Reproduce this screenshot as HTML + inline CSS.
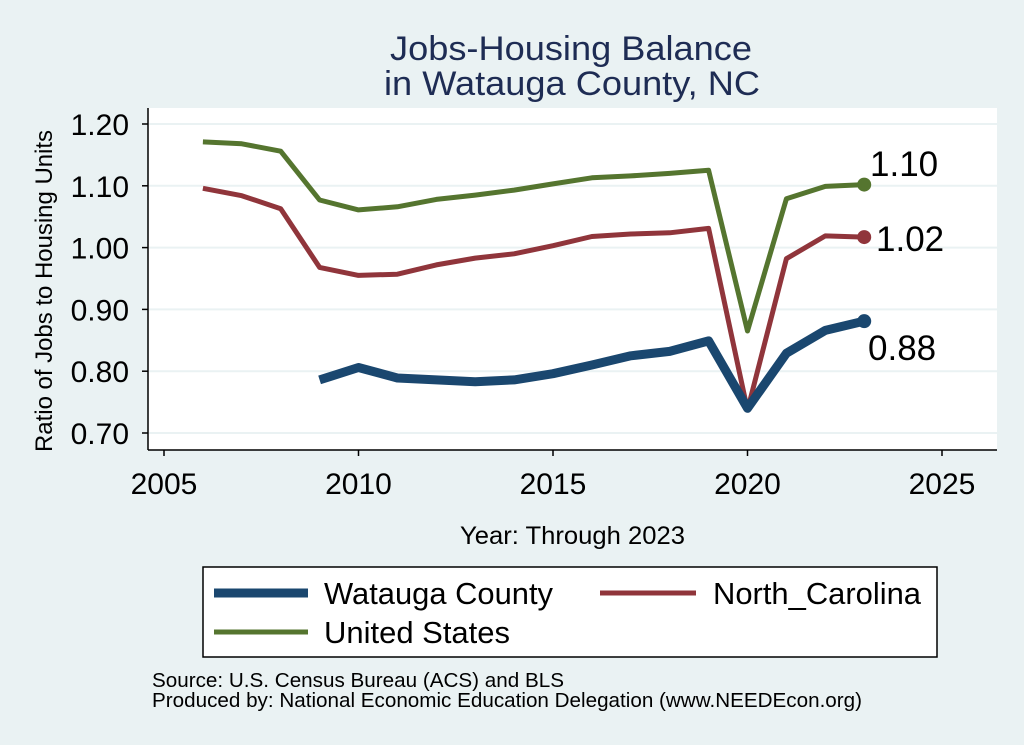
<!DOCTYPE html>
<html><head><style>
body{margin:0;background:#eaf2f3;}
svg{display:block;font-family:"Liberation Sans",Arial,sans-serif;}
</style></head><body>
<svg id="s" width="1024" height="745" viewBox="0 0 1024 745">
<rect width="1024" height="745" fill="#eaf2f3"/>
<rect x="148" y="108" width="849" height="342" fill="#fff"/>
<g id="grid" stroke="#eaf2f3" stroke-width="2"></g>
<line x1="148" y1="108" x2="148" y2="450" stroke="#000" stroke-width="1.5"/>
<line x1="148" y1="450" x2="997" y2="450" stroke="#000" stroke-width="1.5"/>
<g id="ticks" stroke="#000" stroke-width="1.5"></g>
<g id="lbl" font-size="30" fill="#000"></g>
<text x="390" y="60" font-size="34" fill="#1e2c54" textLength="362" lengthAdjust="spacingAndGlyphs">Jobs-Housing Balance</text>
<text x="384" y="95" font-size="34" fill="#1e2c54" textLength="376" lengthAdjust="spacingAndGlyphs">in Watauga County, NC</text>
<text transform="translate(52,291) rotate(-90)" font-size="24" text-anchor="middle" textLength="322" lengthAdjust="spacingAndGlyphs">Ratio of Jobs to Housing Units</text>
<text x="460" y="544" font-size="25" textLength="225" lengthAdjust="spacingAndGlyphs">Year: Through 2023</text>
<g id="lines" fill="none" stroke-linejoin="round"></g>
<text x="870" y="176" font-size="35">1.10</text>
<text x="876" y="251" font-size="35">1.02</text>
<text x="868" y="360" font-size="35">0.88</text>
<rect x="203" y="567" width="734" height="90" fill="#fff" stroke="#000" stroke-width="1.5"/>
<line x1="214" y1="593" x2="308" y2="593" stroke="#1a476f" stroke-width="9"/>
<text x="324" y="604" font-size="31" textLength="229" lengthAdjust="spacingAndGlyphs">Watauga County</text>
<line x1="600" y1="593" x2="696" y2="593" stroke="#90353b" stroke-width="5"/>
<text x="713" y="604" font-size="31" textLength="208" lengthAdjust="spacingAndGlyphs">North_Carolina</text>
<line x1="214" y1="632" x2="308" y2="632" stroke="#55752f" stroke-width="5"/>
<text x="324" y="643" font-size="31" textLength="186" lengthAdjust="spacingAndGlyphs">United States</text>
<text x="152" y="687" font-size="20" textLength="412" lengthAdjust="spacingAndGlyphs">Source: U.S. Census Bureau (ACS) and BLS</text>
<text x="152" y="707" font-size="20" textLength="710" lengthAdjust="spacingAndGlyphs">Produced by: National Economic Education Delegation (www.NEEDEcon.org)</text>
</svg>
<script>
var NS="http://www.w3.org/2000/svg";
function X(y){return 164+(y-2005)*38.9;}
function Y(v){return 124+(1.2-v)*618;}
function el(p,t,a){var e=document.createElementNS(NS,t);for(var k in a)e.setAttribute(k,a[k]);document.getElementById(p).appendChild(e);return e;}
var vals=[1.2,1.1,1.0,0.9,0.8,0.7];
vals.forEach(function(v){var y=Y(v);
el("grid","line",{x1:149,x2:997,y1:y,y2:y});
el("ticks","line",{x1:142,x2:148,y1:y,y2:y});
var t=el("lbl","text",{x:129,y:y+11,"text-anchor":"end"});t.textContent=v.toFixed(2);});
[2005,2010,2015,2020,2025].forEach(function(yr){var x=X(yr);
el("ticks","line",{x1:x,x2:x,y1:450,y2:456});
var t=el("lbl","text",{x:x,y:494,"text-anchor":"middle"});t.textContent=yr;});
var us=[1.171,1.168,1.156,1.077,1.061,1.066,1.078,1.085,1.093,1.103,1.113,1.116,1.120,1.125,0.865,1.079,1.099,1.102];
var nc=[1.096,1.084,1.063,0.968,0.955,0.957,0.972,0.983,0.990,1.003,1.018,1.022,1.024,1.031,0.737,0.982,1.019,1.017];
var wa=[0.786,0.806,0.789,0.786,0.783,0.786,0.796,0.810,0.825,0.832,0.849,0.740,0.829,0.866,0.881];
function pl(d,start,c,w){var p=d.map(function(v,i){return X(start+i).toFixed(1)+","+Y(v).toFixed(1);}).join(" ");
el("lines","polyline",{points:p,stroke:c,"stroke-width":w});
el("lines","circle",{cx:X(2023),cy:Y(d[d.length-1]),r:7,fill:c,stroke:"none"});}
pl(us,2006,"#55752f",5);pl(nc,2006,"#90353b",5);pl(wa,2009,"#1a476f",9);
</script>
</body></html>
